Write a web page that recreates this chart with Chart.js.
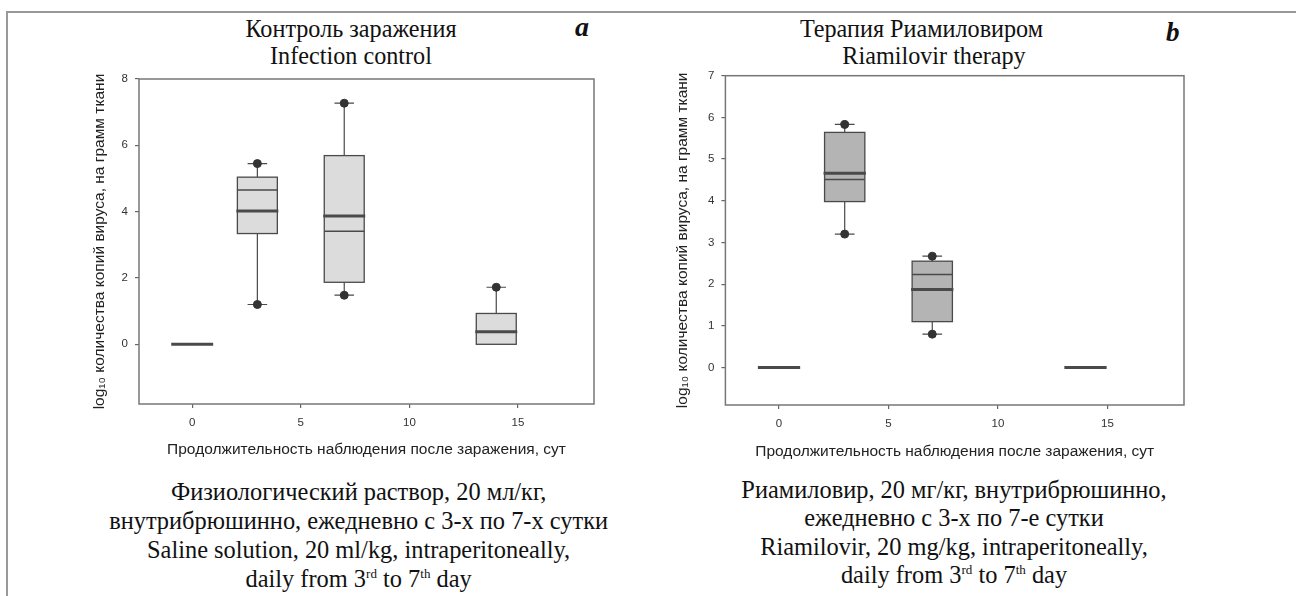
<!DOCTYPE html>
<html lang="ru">
<head>
  <meta charset="UTF-8" />
  <title>Контроль заражения / Терапия Риамиловиром</title>
  <script src="https://cdn.jsdelivr.net/npm/chart.js"></script>
  <style>
    html, body { margin: 0; overflow: hidden; }
    body {
      width: 1296px;
      height: 596px;
      position: relative;
      background: #fff;
      font-family: "Liberation Serif", "Times New Roman", serif;
      color: #111;
    }
    .frame {
      position: absolute;
      left: 6px;
      top: 11px;
      width: 1300px;
      height: 600px;
      border-top: 2px solid #999;
      border-left: 2px solid #999;
    }
    canvas { position: absolute; top: 0; }
    .txt {
      position: absolute;
      width: 700px;
      text-align: center;
      white-space: nowrap;
    }
    .ttl { font-size: 24.2px; line-height: 26.7px; }
    .cap { font-size: 24.4px; }
    .tag {
      position: absolute;
      font-weight: bold;
      font-style: italic;
      line-height: 1;
    }
    sup { font-size: 13px; vertical-align: 9px; line-height: 0; }
  </style>
</head>
<body>
  <div class="frame"></div>

  <div class="txt ttl" style="left:1px; top:16px;">Контроль заражения<br>Infection control</div>
  <div class="tag" style="left:575px; top:13px; font-size:28px;">a</div>

  <div class="txt ttl" style="left:571.5px; top:16px;">Терапия Риамиловиром</div>
  <div class="txt ttl" style="left:584px; top:42.7px;">Riamilovir therapy</div>
  <div class="tag" style="left:1166px; top:19px; font-size:27px;">b</div>

  <canvas id="chartA" width="648" height="470" style="left:0;"></canvas>
  <canvas id="chartB" width="648" height="470" style="left:648px;"></canvas>

  <div class="txt cap" style="left:8.6px; top:477px; line-height:29px;">Физиологический раствор, 20 мл/кг,<br>внутрибрюшинно, ежедневно с 3-х по 7-х сутки<br>Saline solution, 20 ml/kg, intraperitoneally,<br>daily from 3<sup>rd</sup> to 7<sup>th</sup> day</div>
  <div class="txt cap" style="left:604px; top:476px; line-height:28.4px;">Риамиловир, 20 мг/кг, внутрибрюшинно,<br>ежедневно с 3-х по 7-е сутки<br>Riamilovir, 20 mg/kg, intraperitoneally,<br>daily from 3<sup>rd</sup> to 7<sup>th</sup> day</div>

  <script>
    // days after infection
    const days = [0, 3, 7, 14];
    const xTicks = [0, 5, 10, 15];

    // panel a: infection control (saline)
    const ctrlQ1 = [0, 3.34, 1.87, 0];
    const ctrlQ3 = [0, 5.04, 5.69, 0.93];
    const ctrlMedian = [0, 4.02, 3.87, 0.38];
    const ctrlMean = [null, 4.65, 3.41, null];
    const ctrlLow = [null, 1.2, 1.48, null];
    const ctrlHigh = [null, 5.45, 7.27, 1.72];
    const ctrlYTicks = [0, 2, 4, 6, 8];

    // panel b: riamilovir therapy
    const rimQ1 = [0, 3.98, 1.10, 0];
    const rimQ3 = [0, 5.64, 2.55, 0];
    const rimMedian = [0, 4.66, 1.87, 0];
    const rimMean = [null, 4.51, 2.23, null];
    const rimLow = [null, 3.2, 0.8, null];
    const rimHigh = [null, 5.83, 2.67, null];
    const rimYTicks = [0, 1, 2, 3, 4, 5, 6, 7];

    const xTitle = "Продолжительность наблюдения после заражения, сут";
    const yTitle = "log\u2081\u2080 количества копий вируса, на грамм ткани";

    const BOX_HALF = 0.92;
    const CAP_HALF = 0.45;
    const INK = "#4a4a4a";

    function outlierPoints(low, high) {
      const pts = [];
      days.forEach((d, i) => {
        if (low[i] !== null) pts.push({ x: d, y: low[i] });
        if (high[i] !== null) pts.push({ x: d, y: high[i] });
      });
      return pts;
    }

    const boxPlugin = {
      id: "boxes",
      beforeDatasetsDraw(chart, args, o) {
        const { ctx, scales: { x, y } } = chart;
        ctx.save();
        days.forEach((d, i) => {
          const cx = x.getPixelForValue(d);
          const xl = x.getPixelForValue(d - BOX_HALF);
          const xr = x.getPixelForValue(d + BOX_HALF);
          const top = y.getPixelForValue(o.q3[i]);
          const bot = y.getPixelForValue(o.q1[i]);

          // whiskers
          ctx.strokeStyle = INK;
          ctx.lineWidth = 1.2;
          [[o.high[i], top], [o.low[i], bot]].forEach(([v, from]) => {
            if (v === null) return;
            const py = y.getPixelForValue(v);
            ctx.beginPath();
            ctx.moveTo(cx, from);
            ctx.lineTo(cx, py);
            ctx.moveTo(x.getPixelForValue(d - CAP_HALF), py);
            ctx.lineTo(x.getPixelForValue(d + CAP_HALF), py);
            ctx.stroke();
          });

          // box
          if (o.q3[i] > o.q1[i]) {
            ctx.fillStyle = o.fill;
            ctx.fillRect(xl, top, xr - xl, bot - top);
            ctx.lineWidth = 1.3;
            ctx.strokeRect(xl, top, xr - xl, bot - top);
          }

          // mean (thin) and median (thick)
          if (o.mean[i] !== null) {
            const my = y.getPixelForValue(o.mean[i]);
            ctx.lineWidth = 1.5;
            ctx.beginPath();
            ctx.moveTo(xl, my);
            ctx.lineTo(xr, my);
            ctx.stroke();
          }
          const mdy = y.getPixelForValue(o.median[i]);
          ctx.lineWidth = 3;
          ctx.beginPath();
          ctx.moveTo(xl - 1, mdy);
          ctx.lineTo(xr + 1, mdy);
          ctx.stroke();
        });
        ctx.restore();
      },
      afterDraw(chart) {
        const { ctx, chartArea: a } = chart;
        ctx.save();
        ctx.strokeStyle = "#777";
        ctx.lineWidth = 1.5;
        ctx.strokeRect(a.left, a.top, a.right - a.left, a.bottom - a.top);
        ctx.restore();
      }
    };

    function makeChart(id, p) {
      return new Chart(document.getElementById(id), {
        type: "scatter",
        data: {
          datasets: [{
            data: outlierPoints(p.series.low, p.series.high),
            pointRadius: 4,
            pointHoverRadius: 4,
            backgroundColor: "#333",
            borderColor: "#333"
          }]
        },
        options: {
          responsive: false,
          animation: false,
          events: [],
          layout: { padding: { left: p.padL, top: p.padT, right: p.padR, bottom: 0 } },
          plugins: {
            legend: { display: false },
            tooltip: { enabled: false },
            boxes: p.series
          },
          scales: {
            x: {
              type: "linear",
              min: -2.45,
              max: 18.5,
              afterBuildTicks: s => { s.ticks = xTicks.map(v => ({ value: v })); },
              afterFit: s => { s.height = p.xH; },
              border: { display: false },
              grid: { drawOnChartArea: false, tickLength: 4, color: "#666", lineWidth: 1.2 },
              ticks: { padding: 8, color: "#333", font: { family: "Liberation Sans", size: 11.5 } },
              title: {
                display: true,
                text: xTitle,
                color: "#222",
                font: { family: "Liberation Sans", size: 15.5 },
                padding: { top: 0, bottom: p.xTitlePad }
              }
            },
            y: {
              min: p.yMin,
              max: p.yMax,
              afterBuildTicks: s => { s.ticks = p.yTicks.map(v => ({ value: v })); },
              afterFit: s => { s.width = p.yW; },
              border: { display: false },
              grid: { drawOnChartArea: false, tickLength: 4, color: "#666", lineWidth: 1.2 },
              ticks: { padding: 7, color: "#333", font: { family: "Liberation Sans", size: 11.5 } },
              title: {
                display: true,
                text: yTitle,
                color: "#222",
                font: { family: "Liberation Sans", size: 15.5 },
                padding: { top: 2, bottom: 0 }
              }
            }
          }
        },
        plugins: [boxPlugin]
      });
    }

    makeChart("chartA", {
      padL: 88.2, padT: 79, padR: 54, yW: 50.8, xH: 66, xTitlePad: 10.7,
      yMin: -1.8, yMax: 8, yTicks: ctrlYTicks,
      series: { q1: ctrlQ1, q3: ctrlQ3, median: ctrlMedian, mean: ctrlMean, low: ctrlLow, high: ctrlHigh, fill: "#dcdcdc" }
    });

    makeChart("chartB", {
      padL: 23.7, padT: 75.7, padR: 112, yW: 53.7, xH: 65, xTitlePad: 9,
      yMin: -0.9, yMax: 7, yTicks: rimYTicks,
      series: { q1: rimQ1, q3: rimQ3, median: rimMedian, mean: rimMean, low: rimLow, high: rimHigh, fill: "#b4b4b4" }
    });
  </script>
</body>
</html>
